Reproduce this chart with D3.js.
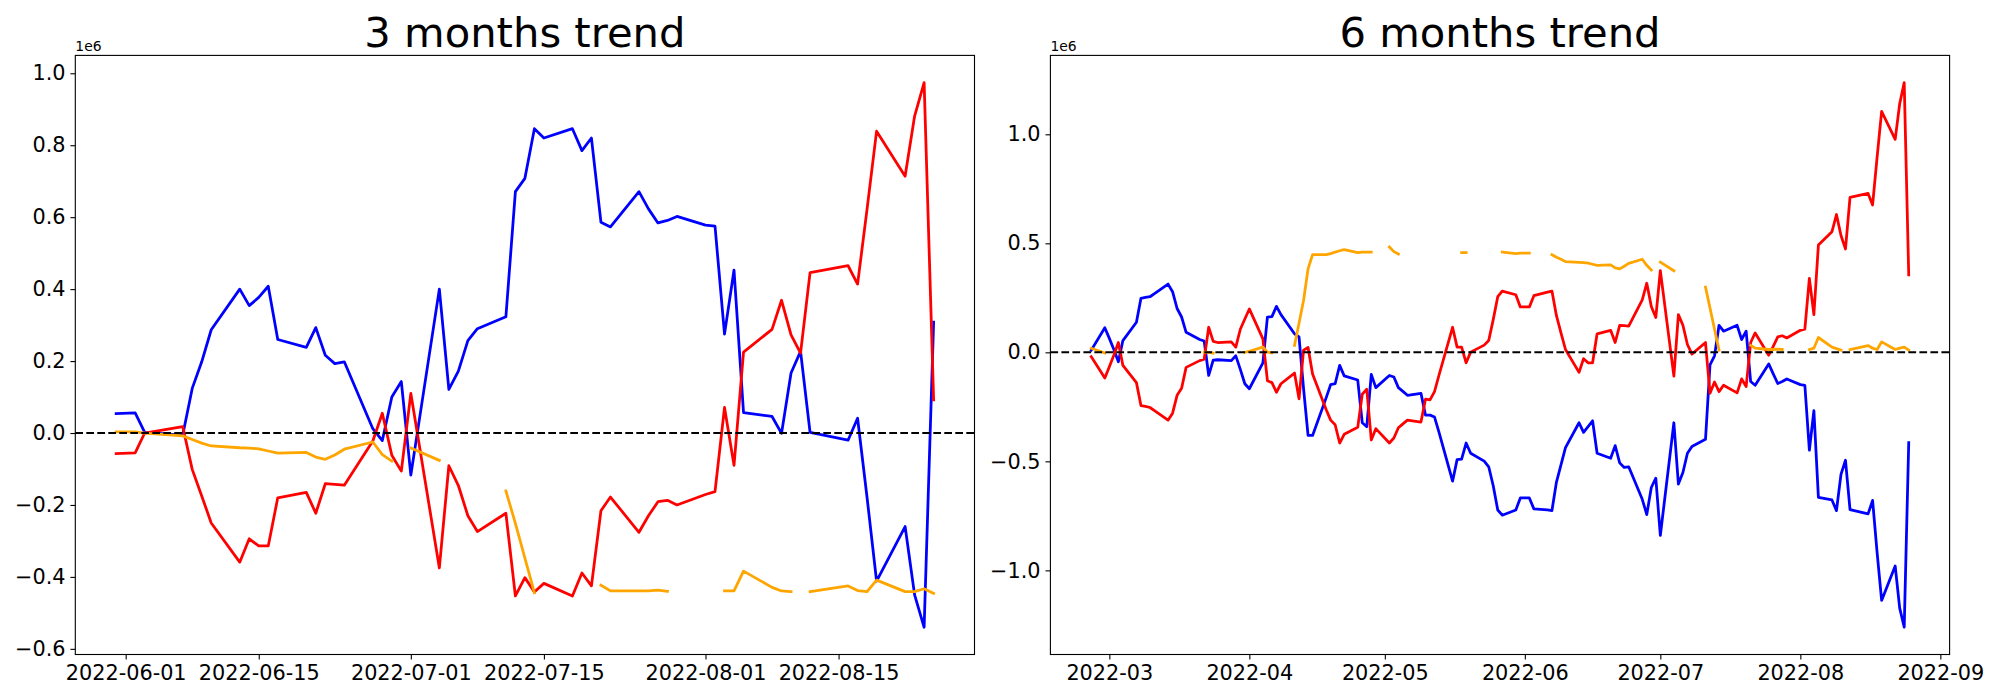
<!DOCTYPE html>
<html>
<head>
<meta charset="utf-8">
<script src="https://cdn.jsdelivr.net/npm/d3@7"></script>
<style>
  body { margin: 0; background: #fff; }
  text { font-family: "DejaVu Sans", sans-serif; fill: #000; }
</style>
</head>
<body>
<div id="chart"></div>
<script>
// values are in units of 1e6

// ---- 3 months ----
const dates3 = ["2022-05-31","2022-06-02","2022-06-03","2022-06-07","2022-06-08","2022-06-09","2022-06-10",
  "2022-06-13","2022-06-14","2022-06-15","2022-06-16","2022-06-17","2022-06-20","2022-06-21","2022-06-22",
  "2022-06-23","2022-06-24","2022-06-27","2022-06-28","2022-06-29","2022-06-30","2022-07-01","2022-07-04",
  "2022-07-05","2022-07-06","2022-07-07","2022-07-08","2022-07-11","2022-07-12","2022-07-13","2022-07-14",
  "2022-07-15","2022-07-18","2022-07-19","2022-07-20","2022-07-21","2022-07-22","2022-07-25","2022-07-26",
  "2022-07-27","2022-07-28","2022-07-29","2022-08-01","2022-08-02","2022-08-03","2022-08-04","2022-08-05",
  "2022-08-08","2022-08-09","2022-08-10","2022-08-11","2022-08-12","2022-08-16","2022-08-17","2022-08-18",
  "2022-08-19","2022-08-22","2022-08-23","2022-08-24","2022-08-25"];
const blue3 = [0.054,0.056,0.002,-0.006,0.124,0.198,0.287,0.400,0.354,0.377,0.408,0.260,0.238,0.293,0.216,
  0.193,0.198,0.012,-0.021,0.100,0.143,-0.117,0.400,0.121,0.172,0.257,0.290,0.323,0.671,0.708,0.846,
  0.820,0.846,0.785,0.820,0.586,0.573,0.671,0.623,0.584,0.591,0.602,0.578,0.575,0.275,0.453,0.057,
  0.046,-0.001,0.167,0.227,0.002,-0.020,0.041,-0.180,-0.412,-0.260,-0.450,-0.540,0.308];
const red3 = [-0.057,-0.055,0.000,0.018,-0.101,-0.175,-0.250,-0.359,-0.294,-0.314,-0.314,-0.180,-0.165,-0.223,-0.141,
  -0.143,-0.145,-0.022,0.055,-0.062,-0.106,0.110,-0.375,-0.091,-0.146,-0.230,-0.274,-0.223,-0.453,-0.402,-0.442,
  -0.418,-0.453,-0.389,-0.425,-0.216,-0.178,-0.276,-0.230,-0.191,-0.187,-0.200,-0.171,-0.163,0.071,-0.090,0.225,
  0.288,0.369,0.273,0.222,0.446,0.465,0.414,0.623,0.839,0.714,0.881,0.974,0.092];
const orange3 = [0.003,0.003,0.000,-0.008,-0.018,-0.028,-0.036,-0.041,-0.042,-0.044,-0.050,-0.056,-0.054,-0.067,-0.073,
  -0.061,-0.045,-0.025,-0.060,-0.078,null,-0.042,-0.076,null,null,null,null,-0.161,-0.251,-0.348,-0.444,
  null,null,null,null,-0.423,-0.439,-0.439,-0.439,-0.437,-0.440,null,null,null,-0.439,-0.439,-0.384,
  -0.429,-0.439,-0.441,null,-0.441,-0.425,-0.438,-0.441,-0.409,-0.441,-0.441,-0.433,-0.446];
const xTicks3 = ["2022-06-01","2022-06-15","2022-07-01","2022-07-15","2022-08-01","2022-08-15"];
const yTicks3 = [-0.6,-0.4,-0.2,0.0,0.2,0.4,0.6,0.8,1.0];

// ---- 6 months ----
const dates6 = ["2022-02-25","2022-02-28",
  "2022-03-01","2022-03-02","2022-03-03","2022-03-04","2022-03-07","2022-03-08","2022-03-09","2022-03-10",
  "2022-03-11","2022-03-14","2022-03-15","2022-03-16","2022-03-17","2022-03-18","2022-03-21","2022-03-22",
  "2022-03-23","2022-03-24","2022-03-25","2022-03-28","2022-03-29","2022-03-30","2022-03-31",
  "2022-04-01","2022-04-04","2022-04-05","2022-04-06","2022-04-07","2022-04-08","2022-04-11","2022-04-12",
  "2022-04-13","2022-04-14","2022-04-15","2022-04-18","2022-04-19","2022-04-20","2022-04-21","2022-04-22",
  "2022-04-25","2022-04-26","2022-04-27","2022-04-28","2022-04-29",
  "2022-05-02","2022-05-03","2022-05-04","2022-05-05","2022-05-06","2022-05-09","2022-05-10","2022-05-11",
  "2022-05-12","2022-05-13","2022-05-16","2022-05-17","2022-05-18","2022-05-19","2022-05-20","2022-05-23",
  "2022-05-24","2022-05-25","2022-05-26","2022-05-27","2022-05-30","2022-05-31",
  "2022-06-01","2022-06-02","2022-06-03","2022-06-06","2022-06-07","2022-06-08","2022-06-09","2022-06-10",
  "2022-06-13","2022-06-14","2022-06-15","2022-06-16","2022-06-17","2022-06-20","2022-06-21","2022-06-22",
  "2022-06-23","2022-06-24","2022-06-27","2022-06-28","2022-06-29","2022-06-30",
  "2022-07-01","2022-07-04","2022-07-05","2022-07-06","2022-07-07","2022-07-08","2022-07-11","2022-07-12",
  "2022-07-13","2022-07-14","2022-07-15","2022-07-18","2022-07-19","2022-07-20","2022-07-21","2022-07-22",
  "2022-07-25","2022-07-26","2022-07-27","2022-07-28","2022-07-29",
  "2022-08-01","2022-08-02","2022-08-03","2022-08-04","2022-08-05","2022-08-08","2022-08-09","2022-08-10",
  "2022-08-11","2022-08-12","2022-08-16","2022-08-17","2022-08-18","2022-08-19","2022-08-22","2022-08-23",
  "2022-08-24","2022-08-25"];
const blue6 = [0.010,0.113,
  0.064,0.013,-0.043,0.054,0.138,0.248,0.252,0.255,
  0.269,0.313,0.278,0.201,0.162,0.092,0.059,0.052,
  -0.106,-0.036,-0.034,-0.038,-0.016,-0.078,-0.144,
  -0.167,-0.048,0.162,0.164,0.211,0.173,0.085,0.071,
  -0.165,-0.381,-0.381,-0.209,-0.148,-0.144,-0.060,-0.108,
  -0.127,-0.323,-0.341,-0.101,-0.162,
  -0.106,-0.113,-0.162,-0.179,-0.197,-0.188,-0.288,-0.288,
  -0.297,-0.367,-0.591,-0.492,-0.490,-0.416,-0.463,-0.499,
  -0.525,-0.612,-0.723,-0.747,-0.723,-0.668,
  -0.668,-0.668,-0.718,-0.723,-0.726,-0.595,-0.516,-0.437,
  -0.323,-0.367,-0.341,-0.314,-0.463,-0.486,-0.428,-0.507,
  -0.528,-0.525,-0.674,-0.744,-0.620,-0.577,
  -0.840,-0.323,-0.604,-0.551,-0.463,-0.432,-0.399,-0.057,
  -0.016,0.124,0.097,0.124,0.059,0.097,-0.134,-0.151,
  -0.053,-0.099,-0.143,-0.134,-0.122,
  -0.148,-0.151,-0.449,-0.267,-0.665,-0.677,-0.726,-0.560,
  -0.495,-0.721,-0.741,-0.679,-0.919,-1.138,-0.980,-1.173,
  -1.261,-0.414];
const red6 = [-0.020,-0.118,
  -0.066,-0.013,0.045,-0.060,-0.139,-0.244,-0.248,-0.253,
  -0.267,-0.311,-0.279,-0.197,-0.165,-0.069,-0.038,-0.031,
  0.115,0.050,0.045,0.048,0.024,0.106,0.153,
  0.199,0.062,-0.130,-0.139,-0.183,-0.144,-0.095,-0.213,
  0.010,0.022,-0.099,-0.262,-0.311,-0.332,-0.416,-0.376,
  -0.344,-0.192,-0.169,-0.402,-0.350,
  -0.416,-0.393,-0.346,-0.328,-0.311,-0.320,-0.215,-0.218,
  -0.180,-0.104,0.115,0.024,0.024,-0.048,0.001,0.033,
  0.054,0.150,0.255,0.281,0.264,0.208,
  0.208,0.208,0.260,0.276,0.281,0.168,0.089,0.013,
  -0.092,-0.029,-0.048,-0.048,0.085,0.101,0.045,0.124,
  0.122,0.120,0.241,0.317,0.210,0.160,
  0.375,-0.109,0.173,0.124,0.036,-0.008,0.045,-0.188,
  -0.136,-0.180,-0.151,-0.186,-0.122,-0.157,0.045,0.089,
  -0.013,0.027,0.071,0.076,0.066,
  0.101,0.106,0.339,0.173,0.492,0.553,0.632,0.536,
  0.474,0.711,0.729,0.676,0.895,1.105,0.977,1.140,
  1.237,0.355];
const orange6 = [0.019,-0.003,
  null,null,null,null,null,null,null,null,
  null,null,null,null,null,null,null,0.001,
  0.000,-0.004,null,null,null,null,0.000,
  0.005,0.024,0.001,-0.002,null,null,0.032,0.133,
  0.238,0.383,0.448,0.448,0.453,0.460,0.466,0.471,
  0.457,0.460,0.460,0.460,null,
  0.483,0.462,0.451,null,null,null,null,null,
  null,null,null,null,0.457,0.457,null,null,
  null,null,null,0.460,0.453,0.455,
  0.455,0.455,null,null,0.448,0.436,0.427,0.416,
  0.413,0.411,0.409,0.404,0.399,0.401,0.387,0.383,
  0.395,0.408,0.427,0.399,0.378,null,
  0.414,0.374,null,null,null,null,0.299,0.203,
  0.106,0.010,null,null,null,null,0.032,0.019,
  0.013,0.013,0.015,0.013,null,
  null,null,0.013,0.019,0.068,0.024,0.017,0.010,
  null,0.013,0.031,0.019,0.013,0.048,0.013,0.019,
  0.024,0.010];
const xTicks6 = ["2022-03-01","2022-04-01","2022-05-01","2022-06-01","2022-07-01","2022-08-01","2022-09-01"];
const yTicks6 = [-1.0,-0.5,0.0,0.5,1.0];

const width = 2000;
const height = 700;
const axTop = 55.4, axBottom = 654.5;
const tickFont = 20.8;

const parse = d3.utcParse("%Y-%m-%d");

const svg = d3.select("#chart")
    .append("svg")
    .attr("width", width)
    .attr("height", height)
    .attr("viewBox", `0 0 ${width} ${height}`);

const panels = [
    { title: "3 months trend", dates: dates3, blue: blue3, red: red3, orange: orange3,
      xTicks: xTicks3, xFmt: "%Y-%m-%d", yTicks: yTicks3, x0: 75.3, x1: 974.5 },
    { title: "6 months trend", dates: dates6, blue: blue6, red: red6, orange: orange6,
      xTicks: xTicks6, xFmt: "%Y-%m", yTicks: yTicks6, x0: 1050.4, x1: 1949.6 }
];

panels.forEach(p => {
    const dts = p.dates.map(parse);

    // matplotlib-style 5% margins
    const [tMin, tMax] = d3.extent(dts);
    const tPad = (tMax - tMin) * 0.05;
    const x = d3.scaleUtc()
        .domain([new Date(+tMin - tPad), new Date(+tMax + tPad)])
        .range([p.x0, p.x1]);

    const all = [...p.blue, ...p.red, ...p.orange].filter(v => v != null);
    const [vMin, vMax] = d3.extent(all);
    const vPad = (vMax - vMin) * 0.05;
    const y = d3.scaleLinear()
        .domain([vMin - vPad, vMax + vPad])
        .range([axBottom, axTop]);

    const g = svg.append("g");

    const line = d3.line()
        .defined(d => d.v != null)
        .x(d => x(d.t))
        .y(d => y(d.v));

    const series = [
        { values: p.blue, color: "#0000ff" },
        { values: p.red, color: "#ff0000" },
        { values: p.orange, color: "#ffa500" }
    ];

    series.forEach(s => {
        g.append("path")
            .datum(dts.map((t, i) => ({ t, v: s.values[i] })))
            .attr("fill", "none")
            .attr("stroke", s.color)
            .attr("stroke-width", 2.78)
            .attr("stroke-linejoin", "round")
            .attr("stroke-linecap", "square")
            .attr("d", line);
    });

    // zero line, dashed
    g.append("line")
        .attr("x1", p.x0).attr("x2", p.x1)
        .attr("y1", y(0)).attr("y2", y(0))
        .attr("stroke", "#000")
        .attr("stroke-width", 2.08)
        .attr("stroke-dasharray", "7.7,3.3");

    // frame
    g.append("rect")
        .attr("x", p.x0).attr("y", axTop)
        .attr("width", p.x1 - p.x0).attr("height", axBottom - axTop)
        .attr("fill", "none")
        .attr("stroke", "#000")
        .attr("stroke-width", 1.1);

    // x axis
    const xAxis = d3.axisBottom(x)
        .tickValues(p.xTicks.map(parse))
        .tickFormat(d3.utcFormat(p.xFmt))
        .tickSize(4.9)
        .tickPadding(4.9);
    const gx = g.append("g")
        .attr("transform", `translate(0,${axBottom})`)
        .call(xAxis);
    gx.select(".domain").remove();
    gx.selectAll(".tick line").attr("stroke-width", 1.1);
    gx.selectAll(".tick text")
        .attr("font-size", tickFont)
        .attr("font-family", "DejaVu Sans")
        .attr("dy", "0.74em");

    // y axis
    const yAxis = d3.axisLeft(y)
        .tickValues(p.yTicks)
        .tickFormat(d3.format(".1f"))
        .tickSize(4.9)
        .tickPadding(4.9);
    const gy = g.append("g")
        .attr("transform", `translate(${p.x0},0)`)
        .call(yAxis);
    gy.select(".domain").remove();
    gy.selectAll(".tick line").attr("stroke-width", 1.1);
    gy.selectAll(".tick text")
        .attr("font-size", tickFont)
        .attr("font-family", "DejaVu Sans");

    // offset label
    g.append("text")
        .attr("x", p.x0)
        .attr("y", axTop - 4)
        .attr("font-size", 13.9)
        .text("1e6");

    // title
    g.append("text")
        .attr("x", (p.x0 + p.x1) / 2)
        .attr("y", axTop - 8.3)
        .attr("text-anchor", "middle")
        .attr("font-size", 41.7)
        .text(p.title);
});
</script>
</body>
</html>
